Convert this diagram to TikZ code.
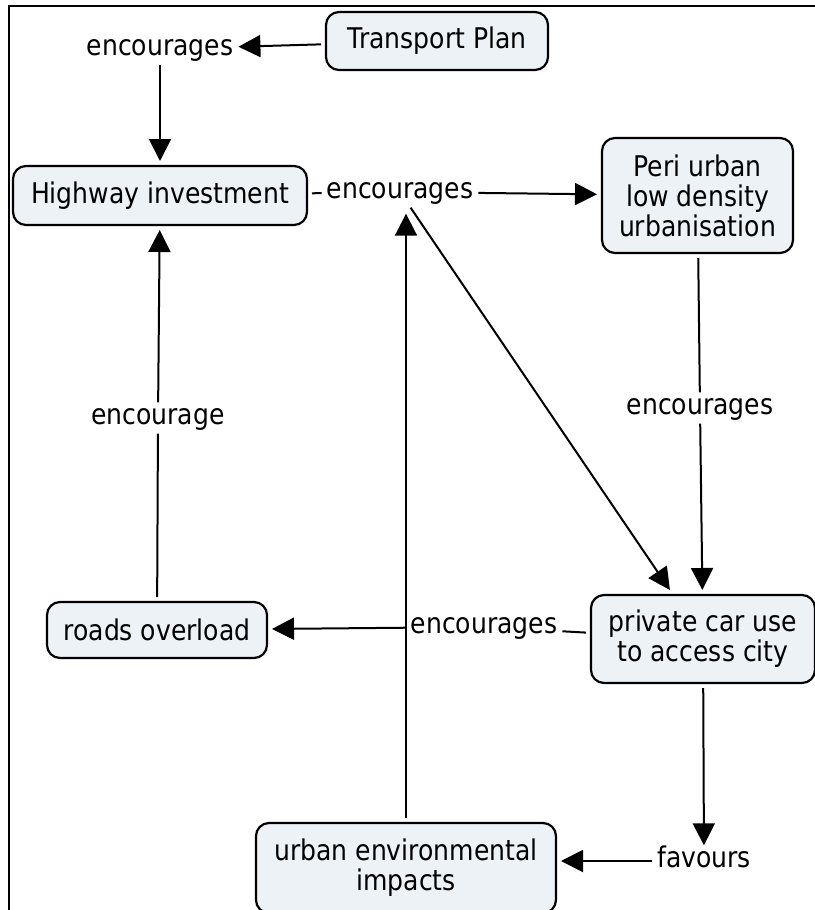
\documentclass[tikz,border=0pt]{standalone}
\usepackage{fontspec}
\setmainfont[FakeStretch=0.88]{DejaVu Sans}
\usetikzlibrary{arrows.meta}
\definecolor{boxfill}{RGB}{237,242,246}
\begin{document}
\begin{tikzpicture}[x=1pt,y=-1pt,
  font=\fontsize{28.5}{30}\selectfont,
  concept/.style={draw=black, line width=2.2pt, rounded corners=13pt, fill=boxfill,
    align=center, inner sep=0pt, outer sep=5pt},
  linkword/.style={inner xsep=5pt, inner ysep=3pt, text height=19pt, text depth=6pt},
  conn/.style={line width=2pt},
  arr/.style={conn, -{Triangle[length=22pt,width=22pt]}},
]
\useasboundingbox (0,0) rectangle (814,910);
\draw[line width=2.5pt] (9,912) -- (9,6) -- (816,6);

% concepts
\node[concept, minimum width=222pt, minimum height=58pt] (transport) at (437,41) {Transport Plan};
\node[concept, minimum width=294pt, minimum height=59pt] (highway) at (160,195.5) {Highway investment};
\node[concept, minimum width=191pt, minimum height=115pt] (peri) at (697.5,195.5) {Peri urban\\low density\\urbanisation};
\node[concept, minimum width=224pt, minimum height=88pt] (private) at (703,639) {private car use\\to access city};
\node[concept, minimum width=220pt, minimum height=56pt] (roads) at (157,630) {roads overload};
\node[concept, minimum width=300pt, minimum height=90pt] (urban) at (406,868) {urban environmental\\impacts};

% linking words
\node[linkword] (enc1) at (160,49) {encourages};
\node[linkword] (enc2) at (400,192) {encourages};
\node[linkword] (enc3) at (700,408) {encourages};
\node[linkword] (enc4) at (484,627) {encourages};
\node[linkword] (enc5) at (158,418) {encourage};
\node[linkword] (fav) at (704,861) {favours};

% connectors
\draw[arr] (transport) -- (enc1);
\draw[arr] (enc1) -- (highway);
\draw[conn] (highway) -- (enc2);
\draw[arr] (enc2) -- (peri);
\draw[arr] (enc2) -- (private);
\draw[arr, shorten >=6pt] (urban.north) -- (urban.north |- enc2.south);
\draw[conn] (peri) -- (enc3);
\draw[arr] (enc3) -- (private);
\draw[conn] (private) -- (enc4);
\draw[arr] (enc4) -- (roads);
\draw[conn] (roads) -- (enc5);
\draw[arr] (enc5) -- (highway);
\draw[arr] (private) -- (fav);
\draw[arr] (fav.west) -- (fav.west -| urban.east);
\end{tikzpicture}
\end{document}
